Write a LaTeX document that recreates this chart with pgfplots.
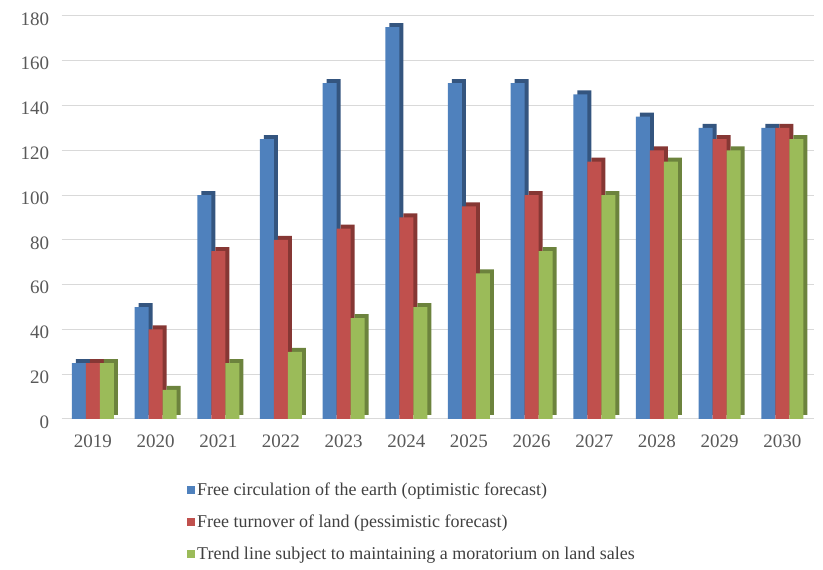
\documentclass[border=0pt]{standalone}
\usepackage{fontspec}
\setmainfont{Liberation Serif}
\usepackage{pgfplots}
\usepackage{pgfplotstable}
\pgfplotsset{compat=1.18}
\definecolor{cb}{HTML}{4F81BD}
\definecolor{cbd}{HTML}{34557F}
\definecolor{cr}{HTML}{C0504D}
\definecolor{crd}{HTML}{863734}
\definecolor{cg}{HTML}{9BBB59}
\definecolor{cgd}{HTML}{6C833D}
\definecolor{gridgray}{HTML}{D9D9D9}
\definecolor{tickgray}{HTML}{595959}
\definecolor{leggray}{HTML}{404040}
\pgfplotstableread{
x a b c
0 25 25 25
1 50 40 13
2 100 75 25
3 125 80 30
4 150 85 45
5 175 90 50
6 150 95 65
7 150 100 75
8 145 115 100
9 135 120 115
10 130 125 120
11 130 130 125
}\data
\begin{document}
\begin{tikzpicture}[x=1pt,y=1pt]
\useasboundingbox (0,0) rectangle (823,570);
\begin{axis}[
  at={(61.6pt,151pt)}, anchor=south west,
  scale only axis, width=752pt, height=403pt,
  xmin=-0.5, xmax=11.5, ymin=0, ymax=180,
  ytick={0,20,...,180}, xtick={0,...,11},
  xticklabels={2019,2020,2021,2022,2023,2024,2025,2026,2027,2028,2029,2030},
  ymajorgrids, grid style={draw=gridgray, line width=1pt},
  axis line style={draw=none}, major tick length=0pt,
  tick label style={font=\fontsize{19}{22}\selectfont, text=tickgray},
  yticklabel style={xshift=-9pt, yshift=-3pt},
  xticklabel style={yshift=-12pt},
  /pgf/number format/assume math mode=true,
  clip=false,
  legend style={at={(0.1667,-0.152)}, anchor=north west, draw=none, fill=none,
    font=\fontsize{18}{21}\selectfont, text=leggray, row sep=14pt, inner sep=0pt,
    cells={anchor=west}},
  legend image code/.code={\path[fill] (0pt,-4pt) rectangle (8pt,4pt);},
]
\addplot[ybar, bar width=14pt, bar shift=-10pt, fill=cbd, draw=none, yshift=4pt, forget plot] table[x=x,y=a]{\data};
\addplot[ybar, bar width=14pt, bar shift=-14pt, fill=cb, draw=none] table[x=x,y=a]{\data};
\addplot[ybar, bar width=14pt, bar shift=4pt, fill=crd, draw=none, yshift=4pt, forget plot] table[x=x,y=b]{\data};
\addplot[ybar, bar width=14pt, bar shift=0pt, fill=cr, draw=none] table[x=x,y=b]{\data};
\addplot[ybar, bar width=14pt, bar shift=18pt, fill=cgd, draw=none, yshift=4pt, forget plot] table[x=x,y=c]{\data};
\addplot[ybar, bar width=14pt, bar shift=14pt, fill=cg, draw=none] table[x=x,y=c]{\data};
\legend{Free circulation of the earth (optimistic forecast),
Free turnover of land (pessimistic forecast),
Trend line subject to maintaining a moratorium on land sales}
\end{axis}
\end{tikzpicture}
\end{document}
